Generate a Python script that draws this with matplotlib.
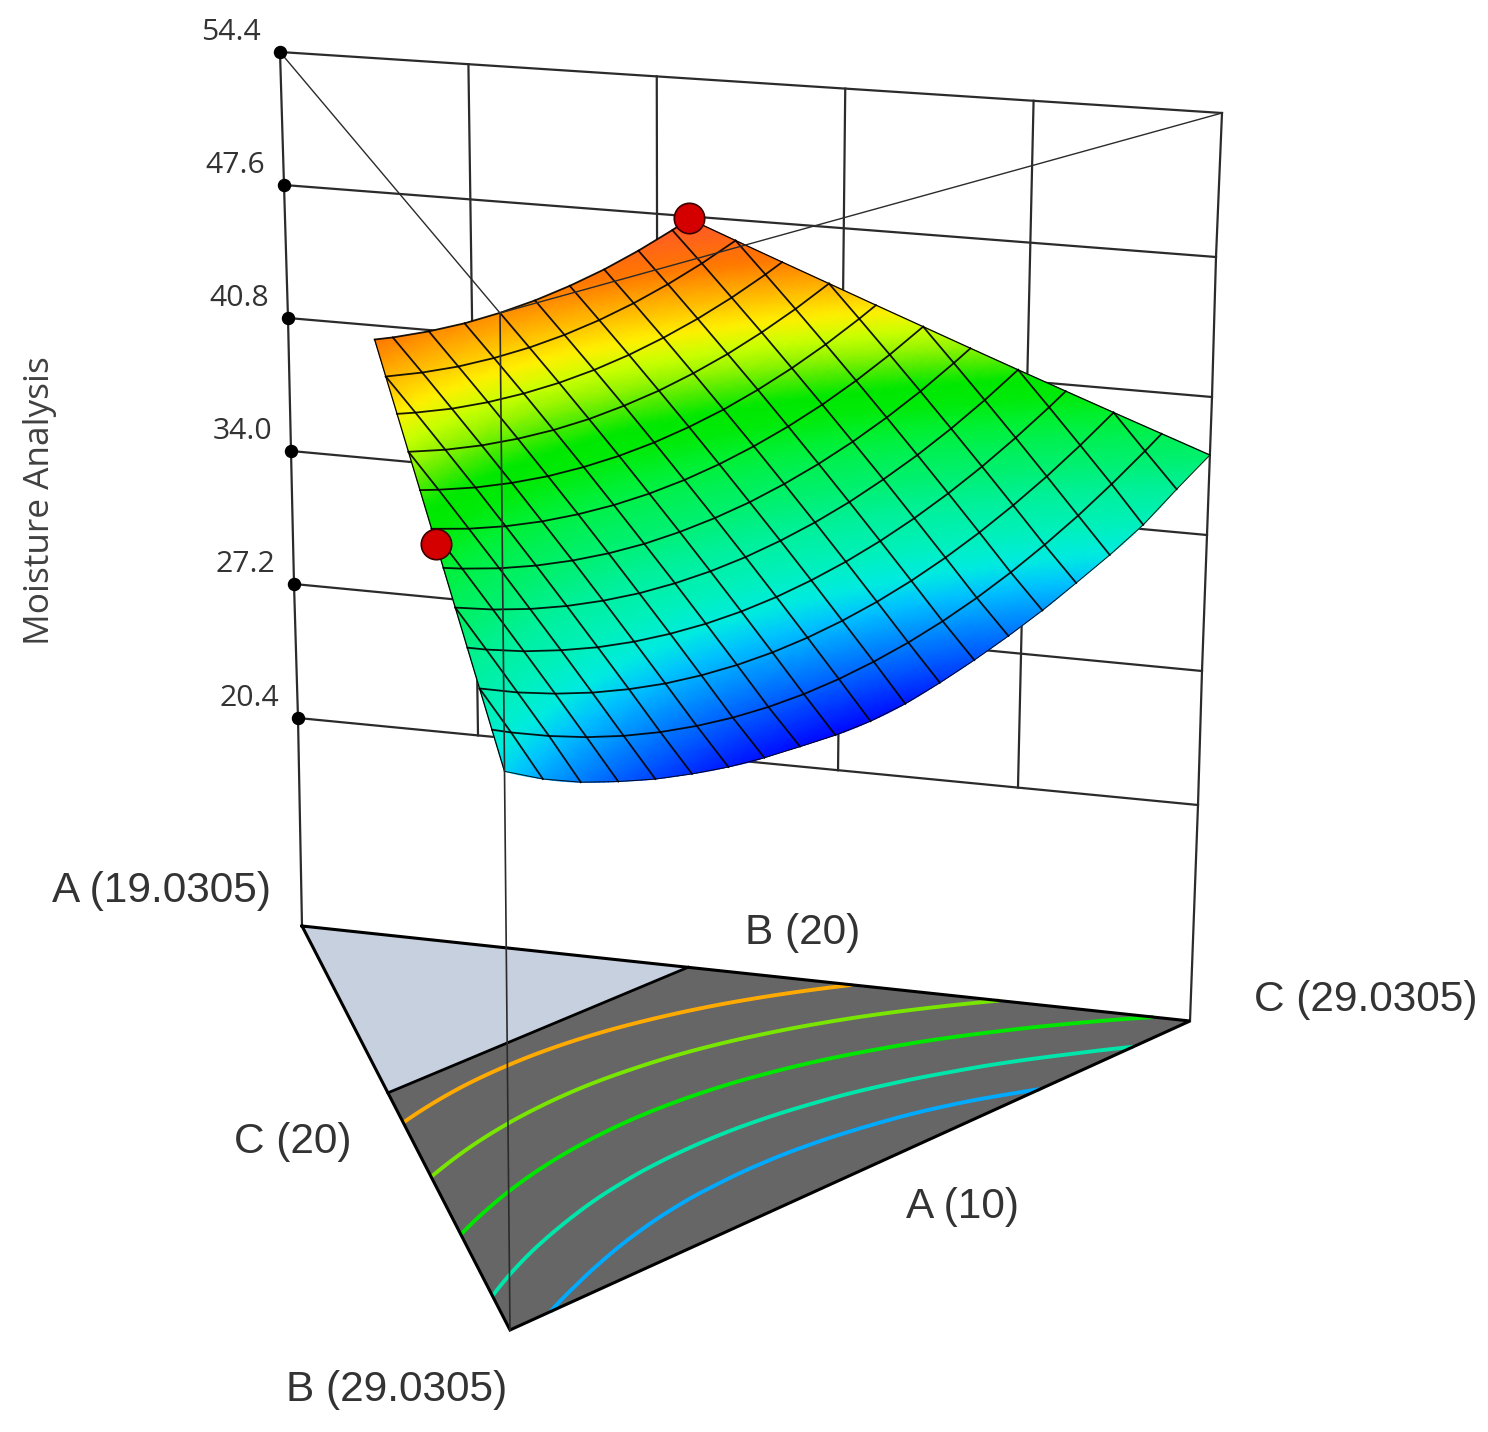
#!/usr/bin/python3
# Mixture response surface (A, B, C) drawn on a perspective prism
import numpy as np
import matplotlib
matplotlib.use('Agg')
import matplotlib.pyplot as plt
from matplotlib.colors import LinearSegmentedColormap
from matplotlib.tri import Triangulation, UniformTriRefiner

z_ticks = [54.4, 47.6, 40.8, 34.0, 27.2, 20.4]
z_floor = 9.8
wall_t = [0.2101, 0.4149, 0.6148, 0.8097]

# response at the mesh nodes, one row per A level (top edge A=15 down to A=10)
z_rows = [
    [45.80, 45.66, 45.47, 45.38, 45.41, 45.54, 45.78, 46.12, 46.58, 47.14, 47.47],
    [44.72, 44.42, 44.22, 44.14, 44.16, 44.29, 44.53, 44.88, 45.34, 45.90, 46.57],
    [43.65, 43.46, 43.15, 42.96, 42.88, 42.90, 43.03, 43.27, 43.62, 44.07, 44.63, 45.30, 45.68],
    [42.58, 42.17, 41.87, 41.68, 41.59, 41.61, 41.75, 41.98, 42.33, 42.78, 43.35, 44.02, 44.80],
    [41.52, 41.28, 40.87, 40.57, 40.37, 40.29, 40.31, 40.44, 40.68, 41.02, 41.48, 42.04, 42.71, 43.49, 43.92],
    [40.47, 39.95, 39.54, 39.24, 39.05, 38.96, 38.98, 39.11, 39.35, 39.70, 40.15, 40.71, 41.38, 42.16, 43.05],
    [39.43, 39.13, 38.61, 38.20, 37.90, 37.70, 37.61, 37.64, 37.77, 38.00, 38.35, 38.80, 39.36, 40.03, 40.81, 41.70, 42.18],
    [38.39, 37.76, 37.24, 36.83, 36.53, 36.33, 36.25, 36.27, 36.40, 36.64, 36.98, 37.43, 38.00, 38.66, 39.44, 40.33, 41.32],
    [37.36, 37.00, 36.37, 35.86, 35.44, 35.14, 34.95, 34.86, 34.88, 35.01, 35.25, 35.59, 36.04, 36.60, 37.27, 38.05, 38.94, 39.93, 40.47],
    [36.33, 35.59, 34.97, 34.45, 34.04, 33.73, 33.54, 33.45, 33.47, 33.60, 33.84, 34.18, 34.63, 35.19, 35.86, 36.64, 37.52, 38.52, 39.62],
    [35.31, 34.90, 34.17, 33.54, 33.02, 32.61, 32.31, 32.11, 32.02, 32.04, 32.17, 32.41, 32.75, 33.20, 33.76, 34.43, 35.21, 36.09, 37.09, 38.19, 38.78],
    [34.30, 33.38, 32.65, 32.09, 31.61, 31.25, 30.97, 30.80, 30.72, 30.66, 30.72, 30.95, 31.36, 31.86, 32.44, 33.10, 33.87, 34.67, 35.59, 36.79, 37.94],
]

contour_levels = [33.3, 35.8, 38.6, 41.4, 44.2]
contour_colors = ['#00aaff', '#00e6aa', '#00e600', '#78e600', '#ffaa00']

# design points: B fraction, C fraction, response
design_s = [0.0, 0.72]
design_t = [0.45, 0.0]
design_z = [47.5, 40.05]

color_z = [30.5, 31.0, 32.0, 33.1, 33.9, 34.7, 35.6, 36.8, 37.9, 38.7, 39.5, 40.3, 41.0,
           41.6, 42.3, 42.9, 43.7, 44.65, 45.8, 47.5]
color_rgb = ['#0000ff', '#001eff', '#005aff', '#0096ff', '#00c3ff', '#00ebe1', '#00f0be',
             '#00f09b', '#00f06e', '#00f055', '#00f032', '#00eb0a', '#00e800', '#46eb00',
             '#96f500', '#c8ff00', '#fff000', '#ffb900', '#ff7800', '#ff552d']

# prism corners, at each height
corner_z = [9.8, 20.4, 27.2, 34.0, 40.8, 47.6, 54.4]
corner_ax = [302, 298, 294, 291, 288, 284, 280]
corner_ay = [926, 718, 584, 451, 318, 185, 52]
corner_cx = [1190, 1198, 1202, 1207, 1212, 1216, 1222]
corner_cy = [1021, 805, 671, 535, 397, 257, 113]
corner_bx = [510, 500]
corner_by = [1330, 313]
weight_b = 0.86
weight_c = 0.94


def project(s, t, z):
    s, t, z = np.asarray(s, float), np.asarray(t, float), np.asarray(z, float)
    wa = 1 - s - t
    wb = weight_b * s
    wc = weight_c * t
    total = wa + wb + wc
    ax_, ay_ = np.interp(z, corner_z, corner_ax), np.interp(z, corner_z, corner_ay)
    cx_, cy_ = np.interp(z, corner_z, corner_cx), np.interp(z, corner_z, corner_cy)
    bx_ = np.interp(z, [z_floor, 54.4], corner_bx)
    by_ = np.interp(z, [z_floor, 54.4], corner_by)
    return (wa * ax_ + wb * bx_ + wc * cx_) / total, (wa * ay_ + wb * by_ + wc * cy_) / total


# mesh lattice: constant A rows crossed by lines of constant C-B
ss, tt, zz = [], [], []
cross = {}
rows = []
for a, row in enumerate(z_rows):
    sigma = 0.45 + 0.05 * a
    n = len(row)
    if a % 2 == 0:
        ts = [0.0] + [0.025 + 0.05 * j for j in range(n - 2)] + [sigma]
    else:
        ts = [0.05 * j for j in range(n)]
    ids = []
    for t, val in zip(ts, row):
        ids.append(len(zz))
        d = (2 * t - sigma) / 0.1
        if abs(d - round(d)) < 1e-6:
            cross.setdefault(int(round(d)), []).append(len(zz))
        tt.append(t)
        ss.append(sigma - t)
        zz.append(val)
    rows.append(ids)
ss, tt, zz = np.array(ss), np.array(tt), np.array(zz)

tris = Triangulation(ss, tt).triangles
p0, p1, p2 = tris[:, 0], tris[:, 1], tris[:, 2]
area = 0.5 * np.abs((ss[p1] - ss[p0]) * (tt[p2] - tt[p0]) - (ss[p2] - ss[p0]) * (tt[p1] - tt[p0]))
tris = tris[area > 1e-5]

# finer triangles only so that the colours and contours come out smooth
fine_tri, fine_z = UniformTriRefiner(Triangulation(ss, tt, tris)).refine_field(zz, subdiv=3)

fig = plt.figure(figsize=(14.88, 14.32), dpi=100)
ax = fig.add_axes([0, 0, 1, 1])
ax.set_xlim(0, 1488)
ax.set_ylim(1432, 0)
ax.axis('off')

wall_c = '#2b2b2b'
# back wall
for tick in z_ticks:
    u, v = project([0, 0], [0, 1], [tick, tick])
    ax.plot(u, v, color=wall_c, lw=1.6, zorder=1)
for t in wall_t:
    u, v = project([0, 0], [t, t], [z_ticks[0], z_ticks[-1]])
    ax.plot(u, v, color=wall_c, lw=1.6, zorder=1)
for s, t in [(0, 0), (0, 1)]:
    hz = np.array(corner_z)
    u, v = project(np.full(7, s), np.full(7, t), hz)
    ax.plot(u, v, color=wall_c, lw=1.6, zorder=1)

# floor
u, v = project([0, 1, 0], [0, 0, 1], [z_floor] * 3)
ax.fill(u, v, color='#c6d0de', lw=0, zorder=1)
u, v = project([0.45, 1, 0, 0], [0, 0, 1, 0.45], [z_floor] * 4)
ax.fill(u, v, color='#666666', lw=0, zorder=1.1)
fu, fv = project(fine_tri.x, fine_tri.y, np.full_like(fine_z, z_floor))
ax.tricontour(Triangulation(fu, fv, fine_tri.triangles), fine_z, levels=contour_levels,
              colors=contour_colors, linewidths=2.8, zorder=1.2)
u, v = project([0.45, 0], [0, 0.45], [z_floor, z_floor])
ax.plot(u, v, color='black', lw=2.0, zorder=1.3)
u, v = project([0, 1, 0, 0], [0, 0, 1, 0], [z_floor] * 4)
ax.plot(u, v, color='black', lw=2.2, zorder=1.3, solid_joinstyle='miter')

# surface
z_cmap = LinearSegmentedColormap.from_list(
    'moisture', [((z - color_z[0]) / (color_z[-1] - color_z[0]), col) for z, col in zip(color_z, color_rgb)])
fsu, fsv = project(fine_tri.x, fine_tri.y, fine_z)
ax.tripcolor(Triangulation(fsu, fsv, fine_tri.triangles), fine_z, shading='gouraud', cmap=z_cmap,
             vmin=color_z[0], vmax=color_z[-1], zorder=2)
su, sv = project(ss, tt, zz)
for a, ids in enumerate(rows):
    lw = 1.3 if a < len(rows) - 1 else 0.7
    ax.plot(su[ids], sv[ids], color='black', lw=lw, zorder=2.1, alpha=0.9)
for k in cross:
    ids = cross[k]
    ax.plot(su[ids], sv[ids], color='black', lw=1.3, zorder=2.1, alpha=0.9)
left_ids = [ids[0] for ids in rows]
right_ids = [ids[-1] for ids in rows]
ax.plot(su[left_ids], sv[left_ids], color='black', lw=0.9, zorder=2.1)
ax.plot(su[right_ids], sv[right_ids], color='black', lw=0.9, zorder=2.1)

# edges running to the near corner, seen through the surface
u, v = project([0, 1, 0], [0, 0, 1], [54.4] * 3)
ax.plot(u, v, color=wall_c, lw=1.0, zorder=2.2)
u, v = project([1, 1], [0, 0], [54.4, z_floor])
ax.plot(u, v, color=wall_c, lw=1.2, zorder=2.2)

# design points
u, v = project(design_s, design_t, design_z)
ax.scatter(u, v, s=480, color='#d40000', edgecolor='#3a0000', linewidth=1.2, zorder=3)

# vertical axis
u, v = project(np.zeros(6), np.zeros(6), z_ticks)
ax.scatter(u, v, s=75, color='black', zorder=3)
for x, y, tick in zip(u, v, z_ticks):
    ax.text(x - 49, y - 19.5, '%.1f' % tick, family='Open Sans', fontsize=21.7, color='#333333',
            ha='center', va='center')
ax.text(40, 501, 'Moisture Analysis', family='Open Sans', fontsize=25.4, color='#404040',
        rotation=90, ha='center', va='center')

vertex_labels = ['A (19.0305)', 'B (20)', 'C (29.0305)', 'C (20)', 'A (10)', 'B (29.0305)']
label_x = [162, 803, 1366, 293, 962, 397]
label_y = [891, 933, 1000, 1142, 1207, 1390]
for lab, x, y in zip(vertex_labels, label_x, label_y):
    ax.text(x, y, lab, family='Liberation Sans', fontsize=30.5, color='#333333', ha='center', va='center')

fig.savefig('out.png', dpi=100)
